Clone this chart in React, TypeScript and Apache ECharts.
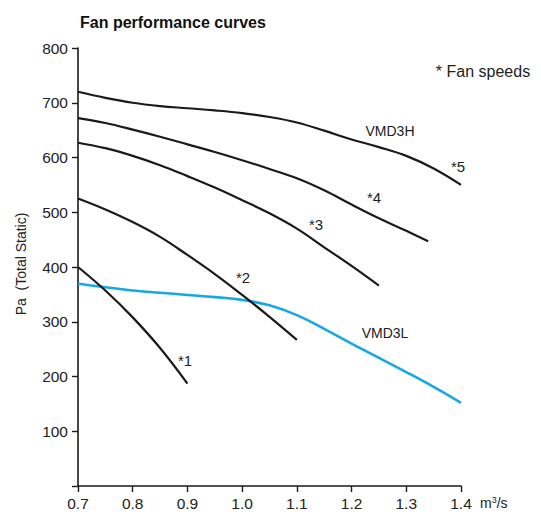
import React, { useEffect, useRef } from "react";
import * as echarts from "echarts";

// Airflow (m³/s) sample points shared by the curves
const flowFull = [0.7, 0.75, 0.8, 0.85, 0.9, 0.95, 1.0, 1.05, 1.1, 1.15, 1.2, 1.25, 1.3, 1.35, 1.4];

// Static pressure (Pa) for each fan speed
const speed1 = [400, 357, 308, 252, 187];
const speed2 = [525, 505, 482, 455, 422, 387, 349, 309, 267];
const speed3 = [627, 617, 603, 586, 566, 545, 522, 498, 470, 436, 402, 366];
const speed4Flow = [0.7, 0.75, 0.8, 0.85, 0.9, 0.95, 1.0, 1.05, 1.1, 1.15, 1.2, 1.25, 1.3, 1.34];
const speed4 = [672, 663, 651, 638, 624, 610, 595, 579, 562, 540, 514, 489, 466, 447];
const speed5 = [720, 709, 700, 694, 690, 686, 681, 674, 664, 649, 633, 619, 603, 580, 550];
const vmd3l = [370, 363, 357, 353, 349, 345, 340, 330, 312, 287, 260, 234, 208, 181, 152];

const xTicks = [0.7, 0.8, 0.9, 1.0, 1.1, 1.2, 1.3, 1.4];
const yTicks = [100, 200, 300, 400, 500, 600, 700, 800];

const pair = (xs: number[], ys: number[]) => ys.map((y, i) => [xs[i], y]);

export default function App() {
  const ref = useRef<HTMLDivElement>(null);

  useEffect(() => {
    document.body.style.margin = "0";
    if (!ref.current) return;
    const chart = echarts.init(ref.current, null, { renderer: "svg" });
    const font = "'Liberation Sans', Arial, sans-serif";
    const textColor = "#222";
    const black = "#1a1a1a";

    const curve = (data: number[][], color: string, width: number) => ({
      type: "line",
      data,
      smooth: 0.4,
      showSymbol: false,
      symbol: "none",
      lineStyle: { color, width },
      silent: true,
    });

    const label = (text: string, x: number, y: number, size = 15) => ({
      type: "text",
      x,
      y,
      style: {
        text,
        font: `${size}px ${font}`,
        fill: textColor,
        align: "center",
        verticalAlign: "middle",
      },
    });

    chart.setOption({
      animation: false,
      backgroundColor: "#fff",
      grid: { left: 78, right: 80, top: 48, bottom: 30, containLabel: false },
      xAxis: {
        type: "value",
        min: xTicks[0],
        max: xTicks[xTicks.length - 1],
        interval: 0.1,
        axisLine: { lineStyle: { color: black, width: 1.6 } },
        axisTick: { show: true, length: 6, lineStyle: { color: black, width: 1.4 } },
        axisLabel: {
          color: textColor,
          fontSize: 15.5,
          fontFamily: font,
          margin: 9,
          formatter: (v: number) => v.toFixed(1),
        },
        splitLine: { show: false },
      },
      yAxis: {
        type: "value",
        min: 0,
        max: yTicks[yTicks.length - 1],
        interval: 100,
        axisLine: { show: true, lineStyle: { color: black, width: 1.6 } },
        axisTick: { show: true, length: 6, lineStyle: { color: black, width: 1.4 } },
        axisLabel: {
          color: textColor,
          fontSize: 15.5,
          fontFamily: font,
          margin: 10,
          formatter: (v: number) => (v === 0 ? "" : String(v)),
        },
        splitLine: { show: false },
      },
      series: [
        curve(pair(flowFull, vmd3l), "#17a8e3", 2.6),
        curve(pair(flowFull, speed1), black, 2.2),
        curve(pair(flowFull, speed2), black, 2.2),
        curve(pair(flowFull, speed3), black, 2.2),
        curve(pair(speed4Flow, speed4), black, 2.2),
        curve(pair(flowFull, speed5), black, 2.2),
      ],
      graphic: [
        {
          type: "text",
          x: 80,
          y: 22,
          style: {
            text: "Fan performance curves",
            font: `bold 16px ${font}`,
            fill: "#111",
            align: "left",
            verticalAlign: "middle",
          },
        },
        {
          type: "text",
          x: 21,
          y: 264,
          rotation: Math.PI / 2,
          style: {
            text: "Pa  (Total Static)",
            font: `14px ${font}`,
            fill: textColor,
            align: "center",
            verticalAlign: "middle",
          },
        },
        {
          type: "text",
          x: 480,
          y: 503,
          style: {
            text: "m{sup|3}/s",
            font: `14px ${font}`,
            fill: textColor,
            align: "left",
            verticalAlign: "middle",
            rich: {
              sup: { fontSize: 9, fontFamily: font, fill: textColor, verticalAlign: "top", padding: [0, 0, 6, 0] },
            },
          },
        },
        label("* Fan speeds", 483, 71, 16),
        label("VMD3H", 390, 131, 14),
        label("VMD3L", 385, 333, 14),
        label("*1", 185, 360),
        label("*2", 243, 277),
        label("*3", 316, 224),
        label("*4", 374, 197),
        label("*5", 458, 166),
      ],
    });

    return () => chart.dispose();
  }, []);

  return <div ref={ref} style={{ width: 541, height: 516 }} />;
}
